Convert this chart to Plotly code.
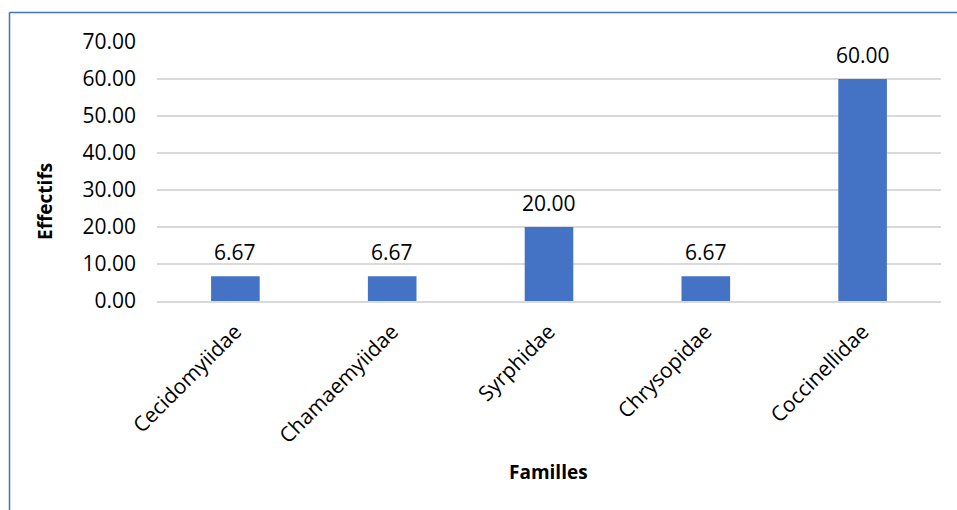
import plotly.graph_objects as go

familles = ["Cecidomyiidae", "Chamaemyiidae", "Syrphidae", "Chrysopidae", "Coccinellidae"]
effectifs = [6.67, 6.67, 20.00, 6.67, 60.00]
y_ticks = [0, 10, 20, 30, 40, 50, 60, 70]

FONT = "Open Sans, Noto Sans, DejaVu Sans, sans-serif"
BLUE = "#4472C4"

# plot area in pixels: x 157..941, y 42..301
L, R, T, B = 157, 16, 42, 209
W, H = 957, 510
pw, ph = W - L - R, H - T - B


def px(x):
    return (x - L) / pw


def py(y):
    return (H - B - y) / ph


fig = go.Figure(
    go.Bar(
        x=familles,
        y=effectifs,
        marker=dict(color=BLUE, line=dict(width=0)),
    )
)

# value labels above each bar
value_labels = [
    dict(
        x=f, y=v, xref="x", yref="y", text=f"{v:.2f}", showarrow=False,
        yanchor="middle", xanchor="center", yshift=24,
        font=dict(family=FONT, size=21, color="#000000"),
    )
    for f, v in zip(familles, effectifs)
]

fig.update_layout(
    width=W,
    height=H,
    margin=dict(l=L, r=R, t=T, b=B),
    paper_bgcolor="white",
    plot_bgcolor="white",
    bargap=0.69,
    showlegend=False,
    font=dict(family=FONT, color="#000000"),
    xaxis=dict(
        tickangle=-45,
        tickfont=dict(family=FONT, size=21, color="#000000"),
        showline=True,
        linecolor="#d9d9d9",
        linewidth=2,
        ticks="",
        showgrid=False,
        ticklabelstandoff=8,
    ),
    yaxis=dict(
        range=[0, 70],
        tickvals=y_ticks,
        ticktext=[f"{v:.2f}" for v in y_ticks],
        tickfont=dict(family=FONT, size=21, color="#000000"),
        showgrid=True,
        gridcolor="#d9d9d9",
        gridwidth=1.5,
        zeroline=False,
        ticks="",
        ticklabelstandoff=20,
    ),
    annotations=value_labels + [
        dict(
            text="<b>Effectifs</b>", xref="paper", yref="paper",
            x=px(45), y=py(202), textangle=-90, showarrow=False,
            font=dict(family=FONT, size=19, color="#000000"),
            xanchor="center", yanchor="middle",
        ),
        dict(
            text="<b>Familles</b>", xref="paper", yref="paper",
            x=px(548), y=py(472), showarrow=False,
            font=dict(family=FONT, size=19, color="#000000"),
            xanchor="center", yanchor="middle",
        ),
    ],
    shapes=[
        dict(
            type="line", xref="paper", yref="paper",
            x0=px(9.5), y0=py(515), x1=px(9.5), y1=py(12.5),
            line=dict(color=BLUE, width=1.5),
        ),
        dict(
            type="line", xref="paper", yref="paper",
            x0=px(9.5), y0=py(12.5), x1=px(965), y1=py(12.5),
            line=dict(color=BLUE, width=1.5),
        ),
    ],
)

fig.write_html("out.html")
